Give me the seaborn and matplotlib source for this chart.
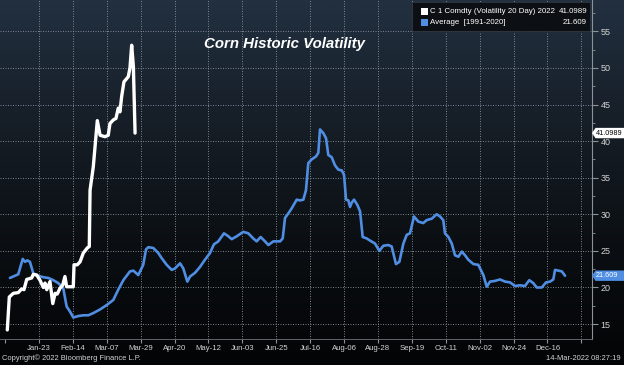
import numpy as np
import pandas as pd
import matplotlib
matplotlib.use('Agg')
import matplotlib.pyplot as plt
import matplotlib.transforms as mtrans
from matplotlib.colors import LinearSegmentedColormap
from matplotlib.patches import Rectangle, Polygon
import seaborn as sns

# ---------------- data ----------------
avg_days = [3.2, 6.5, 8.6, 11.5, 13.0, 14.5, 16.2, 18.4, 21.6, 24.9, 28.1, 31.3, 34.6, 37.8, 40.0, 42.2,
            44.3, 47.6, 50.8, 54.1, 57.3, 61.7, 66.0, 70.3, 73.5, 76.8, 81.1, 83.3, 86.5, 89.7, 91.5,
            93.0, 96.2, 99.5, 101.7, 104.9, 108.2, 110.3, 113.6, 115.7, 118.3, 120.1, 123.3, 126.5, 129.8,
            133.0, 135.6, 138.4, 142.1, 144.9, 147.1, 150.4, 154.6, 157.9, 161.1, 163.3, 165.9, 168.7,
            170.9, 174.1, 178.5, 180.2, 181.7, 183.8, 186.0, 189.3, 191.4, 193.6, 195.3, 196.8, 199.0,
            201.8, 203.3, 204.4, 206.5, 208.3, 209.8, 212.0, 214.1, 216.3, 218.5, 220.0, 221.3, 222.8,
            223.9, 225.0, 226.5, 228.6, 230.4, 232.1, 234.7, 236.9, 240.1, 242.9, 245.5, 248.7, 250.9,
            253.7, 255.9, 258.5, 260.7, 262.8, 265.4, 268.2, 271.4, 273.6, 276.9, 280.1, 282.3, 284.4,
            285.5, 287.7, 289.9, 292.0, 294.2, 296.4, 298.5, 300.6, 303.9, 307.1, 310.4, 312.6, 314.7,
            318.0, 321.2, 324.5, 327.7, 330.9, 334.2, 337.4, 340.2, 342.8, 345.0, 348.3, 351.1, 353.7,
            355.8, 356.9, 359.0, 361.3, 363.4]
avg_vals = [21.3, 21.6, 21.8, 23.9, 23.5, 23.7, 23.5, 21.9, 21.6, 21.4, 21.3, 21.0, 20.6, 19.9, 17.4, 16.7,
            15.9, 16.1, 16.2, 16.2, 16.5, 17.0, 17.6, 18.3, 19.7, 21.0, 22.2, 22.3, 21.7, 23.1, 25.2,
            25.5, 25.4, 24.7, 24.0, 23.1, 22.4, 22.6, 23.3, 22.6, 20.8, 21.5, 22.0, 22.8, 23.8,
            24.7, 25.9, 26.3, 27.4, 27.0, 26.6, 27.0, 27.6, 27.4, 26.7, 26.3, 26.9, 26.3,
            25.8, 26.3, 26.3, 26.7, 29.5, 30.1, 30.8, 32.0, 31.9, 32.0, 33.3, 37.0, 37.5,
            37.9, 38.4, 41.6, 41.1, 40.4, 38.1, 37.8, 36.7, 36.1, 36.0, 35.4, 32.0, 31.9,
            31.0, 31.6, 32.0, 31.3, 30.4, 26.9, 26.7, 26.4, 26.0, 25.0, 25.7, 25.8, 25.6,
            23.2, 23.5, 26.0, 27.2, 27.4, 29.7, 29.0, 28.8, 29.2, 29.4, 30.0, 29.7, 29.2,
            27.4, 26.9, 26.0, 24.4, 24.2, 24.9, 24.4, 23.8, 23.2, 23.1, 21.7, 20.1, 20.8,
            20.9, 21.1, 20.8, 20.7, 20.2, 20.3, 20.2, 21.0, 20.6, 20.0, 20.0, 20.7, 20.8,
            21.1, 22.4, 22.3, 22.2, 21.609]

cur_days = [1.5, 2.8, 5.4, 8.6, 10.8, 12.3, 14.1, 17.3, 18.4, 20.6, 22.7, 24.9, 26.0, 27.1, 29.2, 31.0,
            32.5, 33.9, 35.7, 37.4, 38.9, 40.0, 42.6, 44.3, 44.8, 46.9, 48.7, 50.8, 53.4, 54.7, 55.2, 57.3,
            59.9, 61.7, 64.9, 67.0, 68.1, 70.3, 72.0, 73.5, 74.6, 75.7, 77.2, 80.0, 81.1, 82.2, 83.3,
            84.4]
cur_vals = [14.2, 18.7, 19.2, 19.3, 19.8, 19.7, 21.1, 21.3, 21.8, 21.7, 21.0, 20.0, 20.6, 19.7, 20.8, 17.8,
            19.2, 19.1, 19.9, 20.3, 21.5, 20.1, 20.1, 20.1, 23.1, 23.1, 23.5, 24.7, 25.4, 25.6, 33.3, 36.5,
            42.8, 40.8, 40.6, 40.8, 42.4, 42.9, 43.1, 44.5, 44.0, 46.1, 48.1, 48.8, 50.0, 53.1, 50.2,
            41.0989]

cur_label = "C 1 Comdty (Volatility 20 Day) 2022"
avg_label = "Average  [1991-2020]"
cur_last = "41.0989"
avg_last = "21.609"

tick_labels = ["", "Jan-23", "Feb-14", "Mar-07", "Mar-29", "Apr-20", "May-12", "Jun-03", "Jun-25",
               "Jul-16", "Aug-06", "Aug-28", "Sep-19", "Oct-11", "Nov-02", "Nov-24", "Dec-16", ""]
y_ticks = [15, 20, 25, 30, 35, 40, 45, 50, 55]

title = "Corn Historic Volatility"
footer_left = "Copyright\u00a9 2022 Bloomberg Finance L.P."
footer_right = "14-Mar-2022 08:27:19"

# ---------------- style ----------------
sns.set_theme(style="dark")
plt.rcParams["font.family"] = ["Liberation Sans", "DejaVu Sans"]

W, H = 624, 365
fig = plt.figure(figsize=(W / 100, H / 100), dpi=100)
fig.patch.set_facecolor("#000000")

# background gradient
bg = fig.add_axes([0, 0, 1, 1], zorder=0)
grad = np.linspace(0, 1, 256).reshape(-1, 1)
cmap = LinearSegmentedColormap.from_list("bg", ["#223040", "#161e27", "#0b0f13", "#030405"])
bg.imshow(grad, aspect="auto", cmap=cmap, extent=[0, 1, 0, 1], origin="upper")
bg.axis("off")

ax_l, ax_r, ax_b, ax_t = 0, 592, 339, 0
ax = fig.add_axes([ax_l / W, 1 - ax_b / H, (ax_r - ax_l) / W, (ax_b - ax_t) / H], zorder=1)
ax.patch.set_alpha(0)

df_avg = pd.DataFrame({"day": avg_days, "vol": avg_vals})
df_cur = pd.DataFrame({"day": cur_days, "vol": cur_vals})
sns.lineplot(data=df_avg, x="day", y="vol", ax=ax, color="#4f8ee3", linewidth=1.9, zorder=3)
sns.lineplot(data=df_cur, x="day", y="vol", ax=ax, color="white", linewidth=2.4, zorder=4)

ax.set_xlim(-3.24, 380.9)
ax.set_ylim(12.96, 59.28)
ax.set_xlabel("")
ax.set_ylabel("")

tick_days = np.arange(len(tick_labels)) * 22
grid_kw = dict(color="#8a949e", lw=0.6, ls=(0, (1.2, 1.8)), zorder=1)
for v in y_ticks:
    ax.axhline(v, **grid_kw)
for d in tick_days[1:]:
    ax.axvline(d, **grid_kw)
ax.grid(False)

ax.yaxis.tick_right()
ax.set_yticks(y_ticks)
ax.set_yticklabels([str(v) for v in y_ticks])
ax.set_yticks(np.arange(17.5, 58, 5), minor=True)
ax.set_xticks(tick_days)
ax.set_xticklabels(tick_labels)

for s in ["top", "left"]:
    ax.spines[s].set_visible(False)
ax.spines["right"].set_visible(True)
ax.spines["right"].set_color("#8c9398")
ax.spines["right"].set_linewidth(0.8)
ax.spines["bottom"].set_visible(True)
ax.spines["bottom"].set_color("#5d656c")
ax.spines["bottom"].set_linewidth(0.7)

ax.tick_params(axis="y", which="major", direction="out", length=4, width=0.8, color="#8c9398",
               labelcolor="#d4d4d4", labelsize=6.5, pad=2, right=True, left=False)
ax.tick_params(axis="y", which="minor", direction="out", length=2, width=0.6, color="#8c9398",
               right=True, left=False)
ax.tick_params(axis="x", which="major", direction="out", length=3, width=0.8, color="#8c9398",
               labelcolor="#d4d4d4", labelsize=5.6, pad=1.5, bottom=True)

# title
fig.text(285 / W, 1 - 44 / H, title, ha="center", va="center", color="white",
         fontsize=10.8, fontweight="bold", fontstyle="italic")

# legend box
fig.patches.append(Rectangle((412 / W, 1 - 31 / H), (590 - 412) / W, 29 / H,
                             transform=fig.transFigure, facecolor="#0c1014", edgecolor="#30363d",
                             lw=0.6, zorder=5))
fig.patches.append(Rectangle((421 / W, 1 - 15 / H), 7 / W, 7 / H, transform=fig.transFigure,
                             facecolor="white", edgecolor="none", zorder=6))
fig.patches.append(Rectangle((421 / W, 1 - 26 / H), 7 / W, 7 / H, transform=fig.transFigure,
                             facecolor="#4f8ee3", edgecolor="none", zorder=6))
leg_kw = dict(color="white", fontsize=5.7, va="center", zorder=7)
fig.text(430 / W, 1 - 11.5 / H, cur_label, ha="left", **leg_kw)
fig.text(587 / W, 1 - 11.5 / H, cur_last, ha="right", **leg_kw)
fig.text(430 / W, 1 - 22.5 / H, avg_label, ha="left", **leg_kw)
fig.text(587 / W, 1 - 22.5 / H, avg_last, ha="right", **leg_kw)

# last-value flags on the right axis
bt = mtrans.blended_transform_factory(ax.transAxes, ax.transData)
dy = 5.2 / 7.32
x0, x1, x2 = 1.0, 1.006, W / ax_r + 0.01
for val, txt, fc, tc in [(cur_vals[-1], cur_last, "white", "black"),
                         (avg_vals[-1], avg_last, "#4f8ee3", "white")]:
    poly = Polygon([(x0, val), (x1, val + dy), (x2, val + dy), (x2, val - dy), (x1, val - dy)],
                   closed=True, transform=bt, facecolor=fc, edgecolor="none", clip_on=False, zorder=8)
    ax.add_patch(poly)
    ax.text(x1 + 0.0008, val, txt, transform=bt, ha="left", va="center", color=tc, fontsize=5.2,
            clip_on=False, zorder=9)

# footer
fig.text(2 / W, 1 - 358 / H, footer_left, ha="left", va="center", color="#d4d4d4", fontsize=5.4)
fig.text(621 / W, 1 - 358 / H, footer_right, ha="right", va="center", color="#d4d4d4", fontsize=5.4)

fig.savefig("out.png", dpi=100, facecolor=fig.get_facecolor())
